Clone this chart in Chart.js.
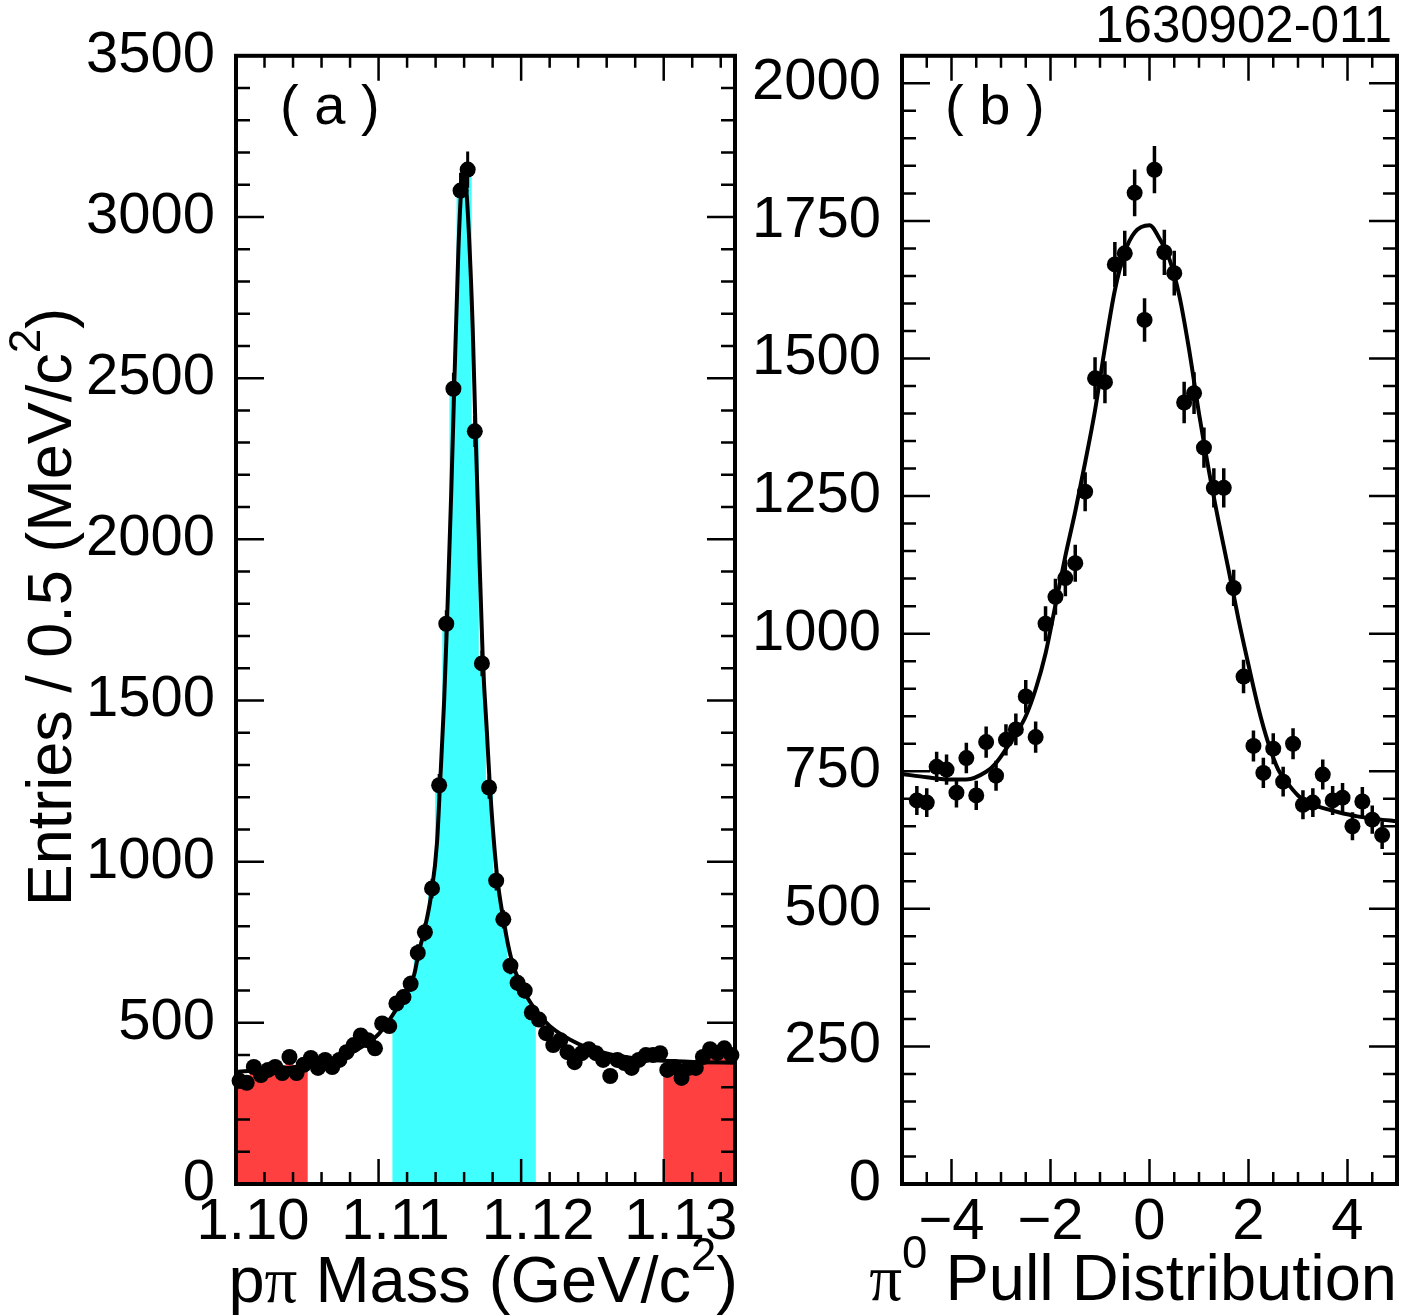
<!DOCTYPE html>
<html>
<head>
<meta charset="utf-8">
<title>Lambda mass and pi0 pull</title>
<script src="https://cdn.jsdelivr.net/npm/chart.js@4.4.1/dist/chart.umd.min.js"></script>
<style>
  html, body { margin: 0; padding: 0; background: #fff; }
  #wrap { position: relative; width: 1426px; height: 1316px; overflow: hidden; }
  #wrap canvas { position: absolute; top: 0; }
  #panelA { left: 0; }
  #panelB { left: 740px; }
</style>
</head>
<body>
<div id="wrap">
  <canvas id="panelA" width="760" height="1316"></canvas>
  <canvas id="panelB" width="686" height="1316"></canvas>
</div>
<script>
// ---- panel (a): p-pi invariant mass, 0.5 MeV bins ----
const massBins = [
  1.10025, 1.10075, 1.10125, 1.10175, 1.10225, 1.10275, 1.10325, 1.10375, 1.10425, 1.10475,
  1.10525, 1.10575, 1.10625, 1.10675, 1.10725, 1.10775, 1.10825, 1.10875, 1.10925, 1.10975,
  1.11025, 1.11075, 1.11125, 1.11175, 1.11225, 1.11275, 1.11325, 1.11375, 1.11425, 1.11475,
  1.11525, 1.11575, 1.11625, 1.11675, 1.11725, 1.11775, 1.11825, 1.11875, 1.11925, 1.11975,
  1.12025, 1.12075, 1.12125, 1.12175, 1.12225, 1.12275, 1.12325, 1.12375, 1.12425, 1.12475,
  1.12525, 1.12575, 1.12625, 1.12675, 1.12725, 1.12775, 1.12825, 1.12875, 1.12925, 1.12975,
  1.13025, 1.13075, 1.13125, 1.13175, 1.13225, 1.13275, 1.13325, 1.13375, 1.13425, 1.13475
];
const massCounts = [
  320, 314, 363, 338, 354, 363, 344, 394, 344, 370,
  391, 360, 385, 363, 385, 409, 431, 461, 446, 421,
  498, 490, 560, 580, 621, 717, 781, 917, 1237, 1738,
  2467, 3082, 3147, 2335, 1615, 1230, 941, 821, 677, 624,
  600, 532, 510, 468, 431, 446, 409, 378, 406, 418,
  406, 385, 335, 385, 375, 360, 385, 400, 400, 406,
  354, 363, 329, 360, 360, 394, 418, 406, 421, 400
];
const signalRange = [1.111, 1.121];
const sidebandLow = [1.100, 1.105];
const sidebandHigh = [1.130, 1.135];

const massFitX = [
  1.1000, 1.1025, 1.1050, 1.1075, 1.1090, 1.1100, 1.1110, 1.1120, 1.1125, 1.1128,
  1.1132, 1.1137, 1.1141, 1.1143, 1.1146, 1.1148, 1.1151, 1.1153, 1.1156, 1.1158,
  1.1159, 1.1161, 1.1163, 1.1166, 1.1168, 1.1170, 1.1173, 1.1176, 1.1178, 1.1183,
  1.1188, 1.1193, 1.1200, 1.1210, 1.1220, 1.1240, 1.1260, 1.1280, 1.1300, 1.1325,
  1.1350
];
const massFitY = [
  348, 356, 368, 395, 430, 465, 525, 600, 650, 715,
  785, 900, 1060, 1230, 1500, 1740, 2150, 2460, 2900, 3090,
  3135, 3110, 2980, 2660, 2340, 2050, 1640, 1400, 1240, 960,
  810, 700, 615, 540, 490, 435, 405, 390, 382, 378,
  376
];
const massRange = [1.100, 1.135];
const massTicks = [1.10, 1.11, 1.12, 1.13];
const massTickLabels = ['1.10', '1.11', '1.12', '1.13'];
const massEntriesMax = 3500;
const massEntriesTicks = [0, 500, 1000, 1500, 2000, 2500, 3000, 3500];

// ---- panel (b): pi0 pull, 0.2 bins ----
const pullBins = [
  -4.7, -4.5, -4.3, -4.1, -3.9, -3.7, -3.5, -3.3, -3.1, -2.9, -2.7, -2.5,
  -2.3, -2.1, -1.9, -1.7, -1.5, -1.3, -1.1, -0.9, -0.7, -0.5, -0.3, -0.1,
  0.1, 0.3, 0.5, 0.7, 0.9, 1.1, 1.3, 1.5, 1.7, 1.9, 2.1, 2.3,
  2.5, 2.7, 2.9, 3.1, 3.3, 3.5, 3.7, 3.9, 4.1, 4.3, 4.5, 4.7
];
const pullCounts = [
  697, 693, 758, 753, 711, 774, 706, 803, 742, 807, 826, 886,
  812, 1018, 1067, 1101, 1128, 1258, 1464, 1457, 1671, 1691, 1801, 1570,
  1843, 1693, 1655, 1420, 1437, 1338, 1265, 1265, 1083, 922, 796, 747,
  791, 731, 800, 689, 693, 744, 697, 702, 650, 695, 662, 634
];
const pullFitX = [
  -5.0, -4.5, -4.0, -3.7, -3.3, -3.1, -2.9, -2.7, -2.5, -2.3, -2.1, -1.9, -1.7, -1.5,
  -1.3, -1.1, -0.9, -0.7, -0.5, -0.3, 0.0, 0.2, 0.4, 0.6, 0.8, 1.0, 1.2, 1.4,
  1.6, 1.8, 2.0, 2.2, 2.4, 2.6, 2.8, 3.0, 3.2, 3.4, 3.8, 4.2, 4.6, 5.0
];
const pullFitY = [
  745, 739, 735, 735, 749, 765, 790, 818, 850, 899, 964, 1052, 1141, 1222,
  1311, 1406, 1520, 1624, 1693, 1729, 1742, 1718, 1681, 1615, 1516, 1400, 1296, 1202,
  1115, 1025, 943, 865, 801, 753, 727, 706, 693, 686, 676, 668, 663, 659
];
const pullRange = [-5, 5];
const pullTicks = [-4, -2, 0, 2, 4];
const pullTickLabels = ['\u22124', '\u22122', '0', '2', '4'];
const pullEntriesMax = 2050;
const pullEntriesTicks = [0, 250, 500, 750, 1000, 1250, 1500, 1750, 2000];

// ---- helpers ----
const FONT = '"Liberation Sans", Arial, Helvetica, sans-serif';
const SERIF = '"Liberation Serif", "Times New Roman", serif';
const CYAN = 'rgb(64,255,255)';
const RED = 'rgb(255,64,64)';

const zip = (xs, ys) => xs.map((x, i) => ({ x, y: ys[i] }));
const inRange = (v, r) => v >= r[0] && v <= r[1];

function segFont(seg, size) {
  const s = seg.sup ? size * 0.7 : size;
  return s + 'px ' + (seg.serif ? SERIF : FONT);
}

function drawRich(ctx, item) {
  const { segs, x, y, size, align = 'left', rotate = 0 } = item;
  ctx.save();
  ctx.translate(x, y);
  if (rotate) ctx.rotate(rotate);
  let w = 0;
  segs.forEach(seg => { ctx.font = segFont(seg, size); w += ctx.measureText(seg.t).width; });
  let cx = align === 'right' ? -w : align === 'center' ? -w / 2 : 0;
  ctx.fillStyle = '#000';
  ctx.textAlign = 'left';
  ctx.textBaseline = 'alphabetic';
  segs.forEach(seg => {
    ctx.font = segFont(seg, size);
    ctx.fillText(seg.t, cx, seg.sup ? -size * 0.5 : 0);
    cx += ctx.measureText(seg.t).width;
  });
  ctx.restore();
}

function makeTextPlugin(items) {
  return { id: 'richText', afterDraw(chart) { items.forEach(it => drawRich(chart.ctx, it)); } };
}

function eachTick(min, max, minor, major, fn) {
  const n0 = Math.ceil(min / minor - 1e-6), n1 = Math.floor(max / minor + 1e-6);
  for (let n = n0; n <= n1; n++) {
    const v = n * minor;
    const r = v / major;
    fn(v, Math.abs(r - Math.round(r)) < 1e-6);
  }
}

// ROOT style frame: ticks inside on all four sides
function makeFramePlugin(t) {
  return {
    id: 'frame',
    afterDatasetsDraw(chart) {
      const { ctx, chartArea: a, scales: { x, y } } = chart;
      ctx.save();
      ctx.strokeStyle = '#000';
      ctx.lineWidth = 2.5;
      ctx.beginPath();
      eachTick(x.min, x.max, t.xMinor, t.xMajor, (v, major) => {
        const px = x.getPixelForValue(v);
        const len = major ? 25 : 12;
        ctx.moveTo(px, a.bottom); ctx.lineTo(px, a.bottom - len);
        ctx.moveTo(px, a.top); ctx.lineTo(px, a.top + len);
      });
      eachTick(y.min, y.max, t.yMinor, t.yMajor, (v, major) => {
        const py = y.getPixelForValue(v);
        const len = major ? 28 : 14;
        ctx.moveTo(a.left, py); ctx.lineTo(a.left + len, py);
        ctx.moveTo(a.right, py); ctx.lineTo(a.right - len, py);
      });
      ctx.stroke();
      ctx.lineWidth = 4;
      ctx.strokeRect(a.left, a.top, a.width, a.height);
      ctx.restore();
    }
  };
}

// sqrt(N) error bars on the data points
function makeErrorBarPlugin(dsIndex, width) {
  return {
    id: 'errorBars',
    afterDatasetsDraw(chart) {
      const { ctx, scales: { x, y } } = chart;
      const pts = chart.data.datasets[dsIndex].data;
      ctx.save();
      ctx.strokeStyle = '#000';
      ctx.lineWidth = width;
      ctx.beginPath();
      pts.forEach(p => {
        const e = Math.sqrt(p.y);
        const px = x.getPixelForValue(p.x);
        ctx.moveTo(px, y.getPixelForValue(p.y - e));
        ctx.lineTo(px, y.getPixelForValue(p.y + e));
      });
      ctx.stroke();
      ctx.restore();
    }
  };
}

function scaleX(range, vals, labels, height, labelOffset) {
  return {
    type: 'linear', min: range[0], max: range[1], offset: false,
    grid: { display: false, drawTicks: false },
    border: { display: false },
    afterBuildTicks: s => { s.ticks = vals.map(v => ({ value: v })); },
    afterFit: s => { s.height = height; },
    ticks: {
      autoSkip: false, maxRotation: 0, minRotation: 0, padding: 4, labelOffset,
      color: '#000', font: { family: FONT, size: 58 },
      callback: (v, i) => labels[i]
    }
  };
}

function scaleY(max, vals, width) {
  return {
    type: 'linear', min: 0, max,
    grid: { display: false, drawTicks: false },
    border: { display: false },
    afterBuildTicks: s => { s.ticks = vals.map(v => ({ value: v })); },
    afterFit: s => { s.width = width; },
    ticks: {
      autoSkip: false, padding: 21, color: '#000', font: { family: FONT, size: 58 },
      callback: v => String(v)
    }
  };
}

const baseOptions = {
  responsive: false,
  animation: false,
  events: [],
  plugins: { legend: { display: false }, tooltip: { enabled: false } }
};

// ---- panel (a) ----
new Chart(document.getElementById('panelA'), {
  type: 'scatter',
  data: {
    datasets: [
      {
        type: 'bar',
        data: zip(massBins, massCounts).filter(p => inRange(p.x, signalRange) || inRange(p.x, sidebandLow) || inRange(p.x, sidebandHigh)),
        backgroundColor: c => (c.raw && inRange(c.raw.x, signalRange)) ? CYAN : RED,
        barPercentage: 1.12, categoryPercentage: 1, borderWidth: 0, order: 3
      },
      {
        type: 'line',
        data: zip(massFitX, massFitY),
        showLine: true, borderColor: '#000', borderWidth: 4, pointRadius: 0,
        cubicInterpolationMode: 'monotone', fill: false, order: 2
      },
      {
        type: 'scatter',
        data: zip(massBins, massCounts),
        pointRadius: 8, backgroundColor: '#000', borderWidth: 0, clip: false, order: 1
      }
    ]
  },
  options: Object.assign({}, baseOptions, {
    layout: { padding: { top: 47, right: 25, left: 0, bottom: 0 } },
    scales: {
      x: scaleX(massRange, massTicks, massTickLabels, 132, 17),
      y: scaleY(massEntriesMax, massEntriesTicks, 236)
    }
  }),
  plugins: [
    makeErrorBarPlugin(2, 3),
    makeFramePlugin({ xMinor: 0.002, xMajor: 0.01, yMinor: 100, yMajor: 500 }),
    makeTextPlugin([
      { segs: [{ t: '( a )' }], x: 280, y: 124, size: 56 },
      { segs: [{ t: 'p' }, { t: '\u03c0', serif: true }, { t: ' Mass (GeV/c' }, { t: '2', sup: true }, { t: ')' }],
        x: 738, y: 1302, size: 65, align: 'right' },
      { segs: [{ t: 'Entries / 0.5 (MeV/c' }, { t: '2', sup: true }, { t: ')' }],
        x: 71, y: 607, size: 63, align: 'center', rotate: -Math.PI / 2 }
    ])
  ]
});

// ---- panel (b) ----
new Chart(document.getElementById('panelB'), {
  type: 'scatter',
  data: {
    datasets: [
      {
        type: 'line',
        data: zip(pullFitX, pullFitY),
        showLine: true, borderColor: '#000', borderWidth: 4, pointRadius: 0,
        cubicInterpolationMode: 'monotone', fill: false, order: 2
      },
      {
        type: 'scatter',
        data: zip(pullBins, pullCounts),
        pointRadius: 8, backgroundColor: '#000', borderWidth: 0, clip: false, order: 1
      }
    ]
  },
  options: Object.assign({}, baseOptions, {
    layout: { padding: { top: 47, right: 29, left: 0, bottom: 0 } },
    scales: {
      x: scaleX(pullRange, pullTicks, pullTickLabels, 132, 0),
      y: scaleY(pullEntriesMax, pullEntriesTicks, 162)
    }
  }),
  plugins: [
    makeErrorBarPlugin(1, 3.5),
    makeFramePlugin({ xMinor: 0.5, xMajor: 2, yMinor: 50, yMajor: 250 }),
    makeTextPlugin([
      { segs: [{ t: '( b )' }], x: 205, y: 124, size: 56 },
      { segs: [{ t: '1630902-011' }], x: 652, y: 42, size: 51, align: 'right' },
      { segs: [{ t: '\u03c0', serif: true }, { t: '0', sup: true }, { t: ' Pull Distribution' }],
        x: 657, y: 1300, size: 65, align: 'right' }
    ])
  ]
});
</script>
</body>
</html>
